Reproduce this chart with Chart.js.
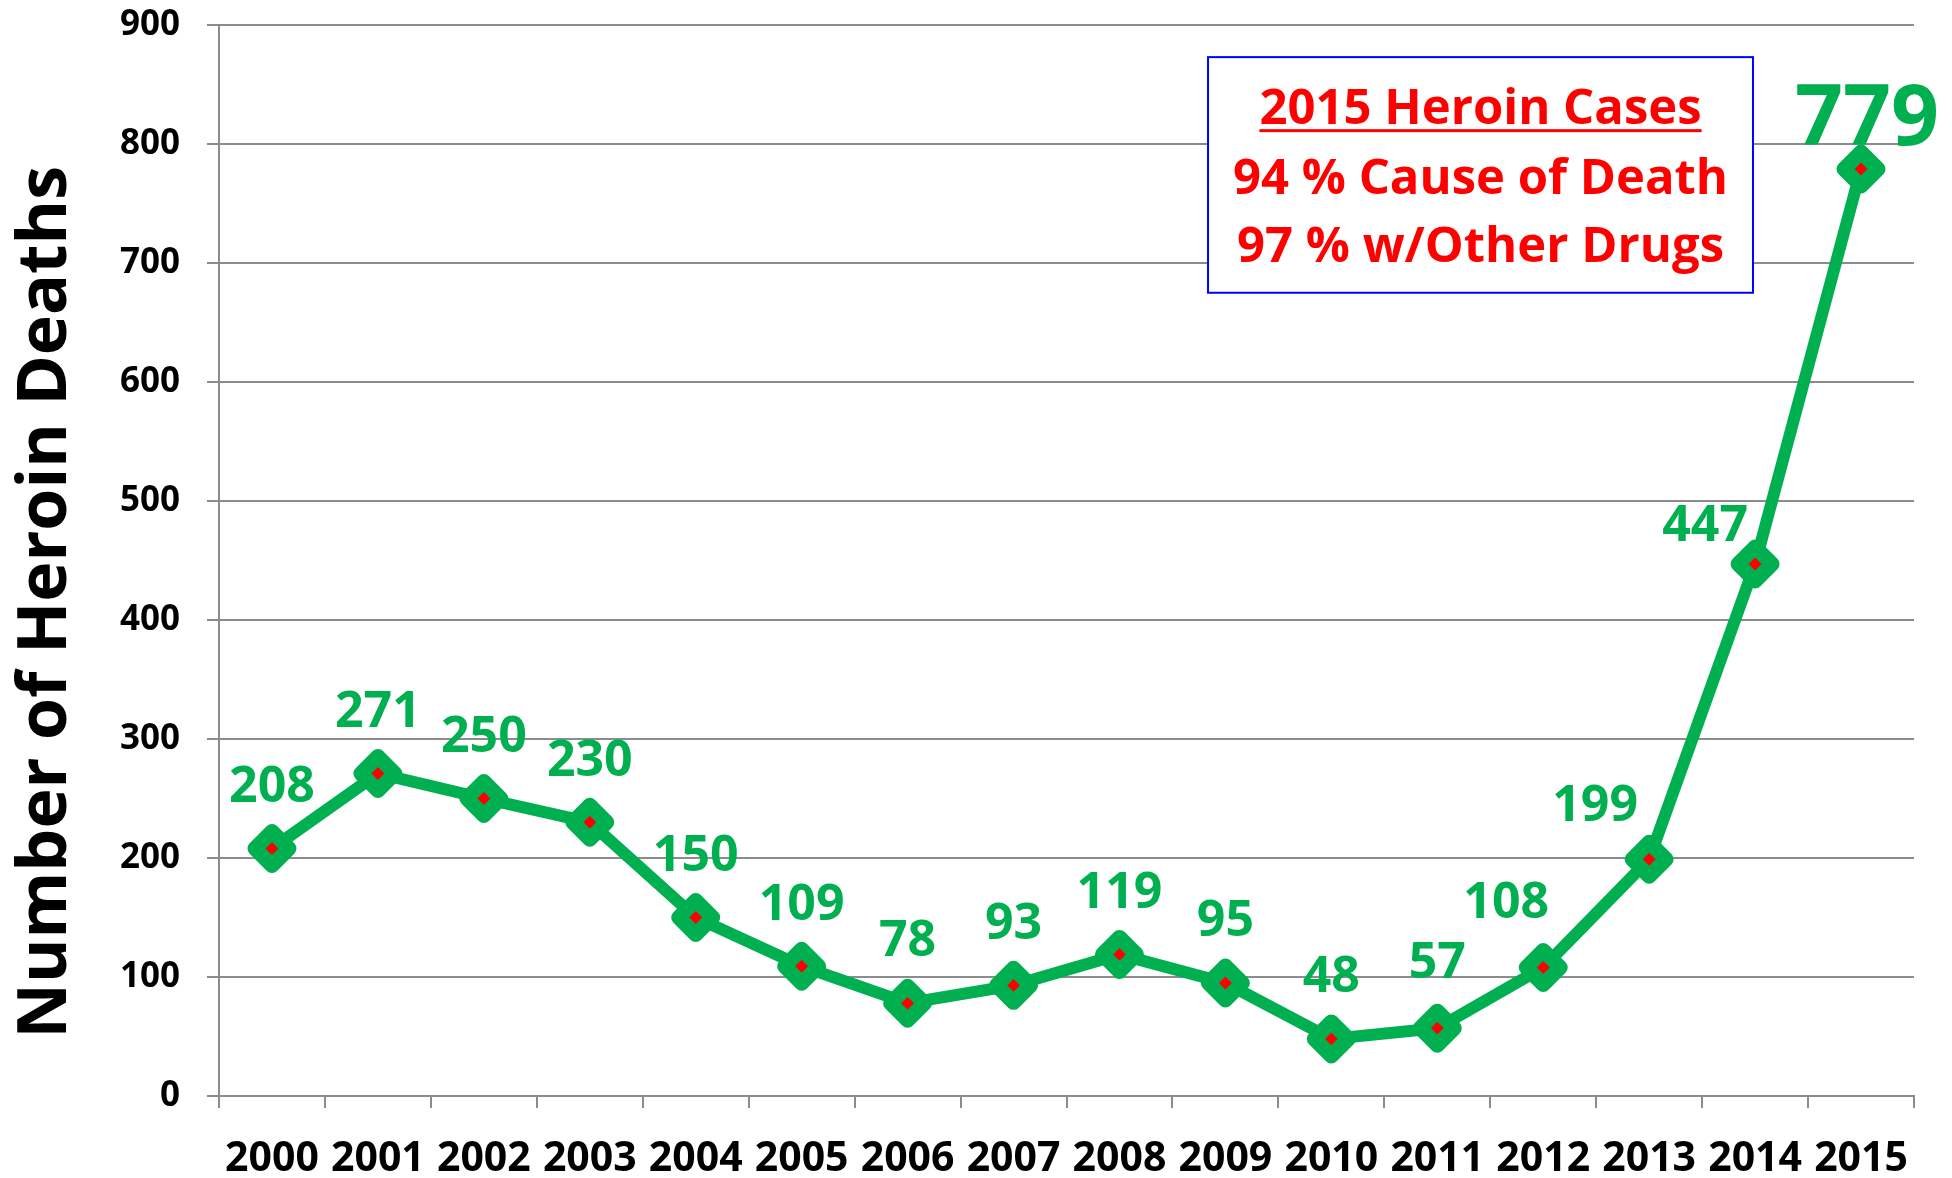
<!DOCTYPE html>
<html>
<head>
<meta charset="utf-8">
<script src="https://cdn.jsdelivr.net/npm/chart.js@4.4.0/dist/chart.umd.min.js"></script>
<style>
  html, body { margin: 0; padding: 0; background: #ffffff; }
  #wrap { width: 1952px; height: 1178px; }
</style>
</head>
<body>
<div id="wrap"><canvas id="heroin-chart" width="1952" height="1178"></canvas></div>
<script>
// data
var years = ["2000", "2001", "2002", "2003", "2004", "2005", "2006", "2007",
             "2008", "2009", "2010", "2011", "2012", "2013", "2014", "2015"];
var deaths = [208, 271, 250, 230, 150, 109, 78, 93, 119, 95, 48, 57, 108, 199, 447, 779];
var yTicks = [0, 100, 200, 300, 400, 500, 600, 700, 800, 900];
var yTitle = "Number of Heroin Deaths";
var noteLines = ["2015 Heroin Cases", "94 % Cause of Death", "97 % w/Other Drugs"];

// label nudges (px) so the value sits above / left of its marker
var labelDx = [0, 0, 0, 0, 0, 0, 0, 0, 0, 0, 0, 0, -37, -54, -50, 6];
var labelDy = [-61, -61, -61, -61, -61, -61, -61, -61, -61, -61, -61, -64, -64, -52, -37, -48];

var FONT = "'Open Sans', 'DejaVu Sans', sans-serif";
var green = '#00B050';
var gridColor = '#8c8c8c';

Chart.defaults.font.family = FONT;

// round corners on the diamond markers
var roundJoin = {
  id: 'roundJoin',
  beforeDatasetDraw: function(chart) {
    chart.ctx.save();
    chart.ctx.lineJoin = 'round';
  },
  afterDatasetDraw: function(chart) {
    chart.ctx.restore();
  }
};

// rotated y title, sits a bit below the middle of the axis like the original
var axisTitle = {
  id: 'axisTitle',
  afterDraw: function(chart) {
    var ctx = chart.ctx;
    var ys = chart.scales.y;
    ctx.save();
    ctx.translate(47, ys.getPixelForValue(415));
    ctx.rotate(-Math.PI / 2);
    ctx.fillStyle = '#000000';
    ctx.textAlign = 'center';
    ctx.textBaseline = 'middle';
    ctx.font = 'bold 68px ' + FONT;
    ctx.fillText(yTitle, 0, 0);
    ctx.restore();
  }
};

// the white note box with red text
var noteBox = {
  id: 'noteBox',
  beforeDatasetsDraw: function(chart) {
    var ctx = chart.ctx;
    var xs = chart.scales.x, ys = chart.scales.y;
    var left = xs.getPixelForValue(8.836);
    var right = xs.getPixelForValue(13.98);
    var top = ys.getPixelForValue(873);
    var bottom = ys.getPixelForValue(675);
    var cx = (left + right) / 2;
    var h = bottom - top;
    ctx.save();
    ctx.fillStyle = '#ffffff';
    ctx.fillRect(left, top, right - left, h);
    ctx.strokeStyle = '#0000FF';
    ctx.lineWidth = 2;
    ctx.strokeRect(left, top, right - left, h);

    ctx.fillStyle = '#FF0000';
    ctx.textAlign = 'center';
    ctx.textBaseline = 'middle';
    ctx.font = 'bold 49px ' + FONT;
    var rows = [0.225, 0.52, 0.812];
    noteLines.forEach(function(t, i) {
      ctx.fillText(t, cx, top + h * rows[i]);
    });
    // underline on the heading
    var w = ctx.measureText(noteLines[0]).width;
    ctx.fillRect(cx - w / 2, top + h * rows[0] + 19, w, 3);
    ctx.restore();
  }
};

// green value labels
var valueLabels = {
  id: 'valueLabels',
  afterDatasetsDraw: function(chart) {
    var ctx = chart.ctx;
    var meta = chart.getDatasetMeta(0);
    ctx.save();
    ctx.fillStyle = green;
    ctx.textAlign = 'center';
    ctx.textBaseline = 'middle';
    meta.data.forEach(function(pt, i) {
      var last = i === deaths.length - 1;
      ctx.font = 'bold ' + (last ? 84 : 50) + 'px ' + FONT;
      ctx.fillText(String(deaths[i]), pt.x + labelDx[i], pt.y + labelDy[i]);
    });
    ctx.restore();
  }
};

new Chart(document.getElementById('heroin-chart'), {
  type: 'line',
  data: {
    labels: years,
    datasets: [{
      label: 'Heroin Deaths',
      data: deaths,
      borderColor: green,
      borderWidth: 12,
      tension: 0,
      fill: false,
      clip: false,
      pointStyle: 'rectRot',
      pointRadius: 17,
      pointHoverRadius: 17,
      pointBorderWidth: 15,
      pointBackgroundColor: '#FF0000',
      pointBorderColor: green
    }]
  },
  options: {
    responsive: false,
    animation: false,
    events: [],
    layout: { autoPadding: false, padding: { top: 25, right: 38, bottom: 0, left: 0 } },
    plugins: {
      legend: { display: false },
      tooltip: { enabled: false }
    },
    scales: {
      x: {
        offset: true,
        grid: {
          offset: true,
          drawOnChartArea: false,
          drawTicks: true,
          tickLength: 12,
          color: gridColor,
          lineWidth: 2
        },
        border: { color: gridColor, width: 2 },
        ticks: {
          color: '#000000',
          font: { size: 41, weight: 'bold' },
          padding: 27,
          maxRotation: 0,
          autoSkip: false
        },
        afterFit: function(s) {
          s.height = 82;
          s.paddingLeft = 0; s.paddingRight = 0;
        }
      },
      y: {
        min: 0,
        max: 900,
        afterBuildTicks: function(s) {
          s.ticks = yTicks.map(function(v) { return { value: v }; });
        },
        grid: { color: gridColor, lineWidth: 2, tickLength: 12 },
        border: { color: gridColor, width: 2 },
        ticks: {
          color: '#000000',
          font: { size: 35, weight: 'bold' },
          padding: 27
        },
        afterFit: function(s) {
          s.width = 219;
          s.paddingTop = 0; s.paddingBottom = 0;
        }
      }
    }
  },
  plugins: [roundJoin, noteBox, valueLabels, axisTitle]
});
</script>
</body>
</html>
